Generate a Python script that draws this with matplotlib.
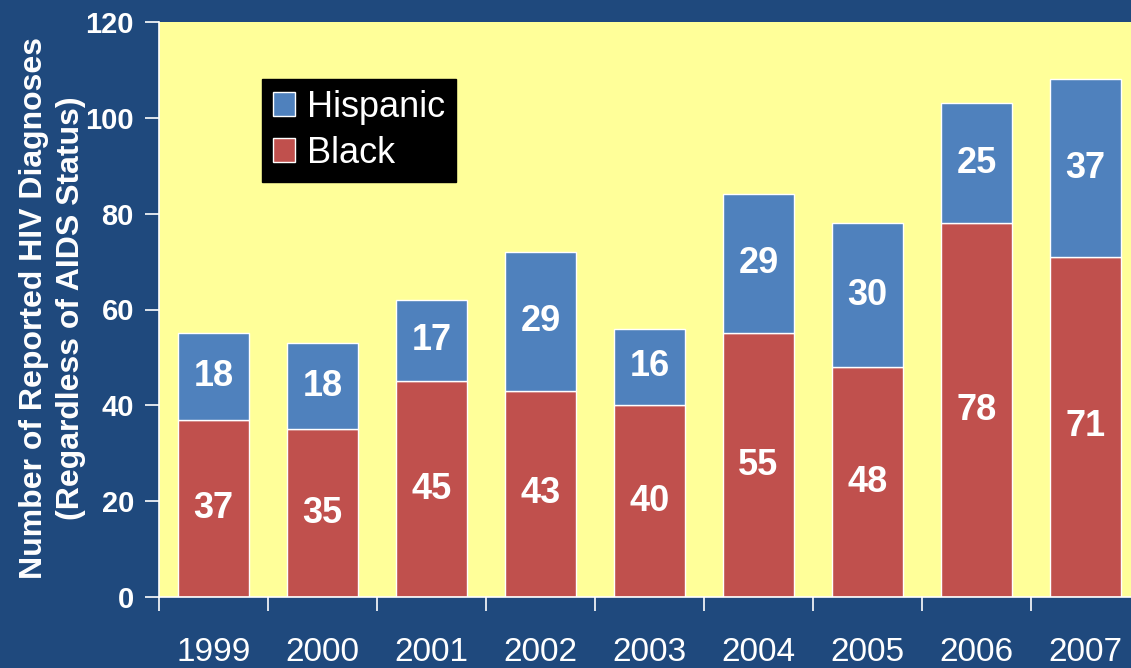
import matplotlib
matplotlib.use("Agg")
import matplotlib.pyplot as plt
import numpy as np

years = ["1999", "2000", "2001", "2002", "2003", "2004", "2005", "2006", "2007"]
black = [37, 35, 45, 43, 40, 55, 48, 78, 71]
hispanic = [18, 18, 17, 29, 16, 29, 30, 25, 37]

plt.rcParams['font.family'] = ['Liberation Sans', 'DejaVu Sans']

BG = "#1F497D"
YEL = "#FFFF99"
BLUE = "#4F81BD"
RED = "#C0504D"

fig = plt.figure(figsize=(11.31, 6.68), dpi=100, facecolor=BG)
W, H = 1131, 668
ax = fig.add_axes([159 / W, (H - 597) / H, 981 / W, (597 - 22) / H])
ax.set_facecolor(YEL)

x = np.arange(len(years))
bw = 0.66
b1 = ax.bar(x, black, bw, color=RED, edgecolor="white", linewidth=1.0, label="Black")
b2 = ax.bar(x, hispanic, bw, bottom=black, color=BLUE, edgecolor="white", linewidth=1.0, label="Hispanic")

for i in range(len(years)):
    ax.text(x[i], black[i] / 2, str(black[i]), ha="center", va="center",
            color="white", fontsize=26, fontweight="bold")
    ax.text(x[i], black[i] + hispanic[i] / 2, str(hispanic[i]), ha="center", va="center",
            color="white", fontsize=26, fontweight="bold")

ax.set_xlim(-0.5, len(years) - 0.5)
ax.set_ylim(0, 120)
ax.set_yticks(range(0, 121, 20))
ax.set_yticklabels([str(v) for v in range(0, 121, 20)], fontsize=21, fontweight="bold", color="white")
ax.tick_params(axis="y", colors="white", length=10, width=1.2, direction="out", pad=8)

ax.set_xticks(x)
ax.set_xticklabels(years, fontsize=24, color="white")
ax.tick_params(axis="x", length=0, pad=29, colors="white")
ax.set_xticks(np.arange(-0.5, len(years), 1), minor=True)
ax.tick_params(axis="x", which="minor", length=10, width=1.2, color="white", direction="out")

for s in ["top", "right"]:
    ax.spines[s].set_visible(False)
for s in ["left", "bottom"]:
    ax.spines[s].set_color("white")
    ax.spines[s].set_linewidth(1.2)

ax.set_ylabel("Number of Reported HIV Diagnoses\n(Regardless of AIDS Status)",
              fontsize=23, fontweight="bold", color="white", linespacing=1.3)
ax.yaxis.set_label_coords((86 - 159) / 981, 0.502)

handles = [b2, b1]
leg = ax.legend(handles, ["Hispanic", "Black"], loc="upper left",
                bbox_to_anchor=(262 / W, 1 - 79 / H), bbox_transform=fig.transFigure,
                fontsize=26, frameon=True, facecolor="black", edgecolor="black",
                fancybox=False, framealpha=1, borderaxespad=0, handlelength=0.62,
                handleheight=0.62, handletextpad=0.33, labelspacing=0.3, borderpad=0.3)
for t in leg.get_texts():
    t.set_color("white")

fig.savefig("out.png", dpi=100, facecolor=BG)
